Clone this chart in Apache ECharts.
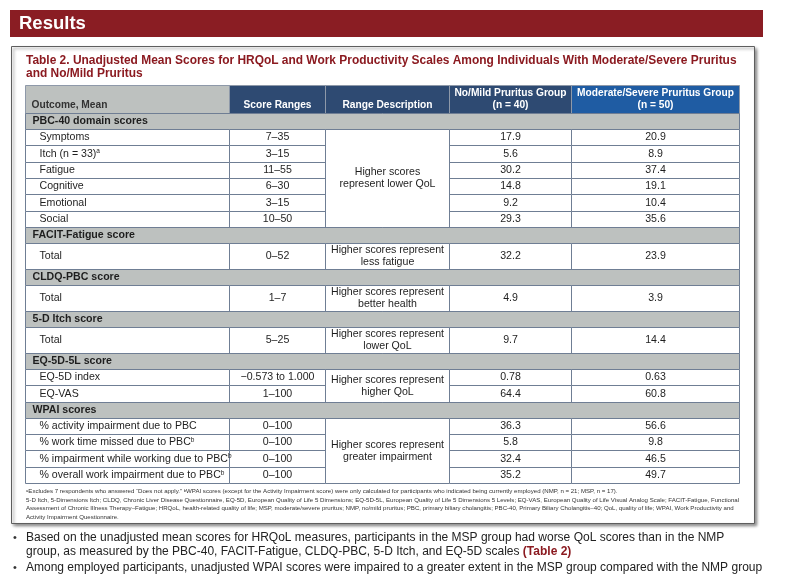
<!DOCTYPE html>
<html><head><meta charset="utf-8">
<script src="https://cdn.jsdelivr.net/npm/echarts@6/dist/echarts.min.js"></script>
<style>html,body{margin:0;padding:0;background:#fff}#c{width:788px;height:586px}</style>
</head><body><div id="c"></div>
<script>
// ---------- data ----------
const pageTitle = 'Results';
const tableTitle = [
  'Table 2. Unadjusted Mean Scores for HRQoL and Work Productivity Scales Among Individuals With Moderate/Severe Pruritus',
  'and No/Mild Pruritus'
];
const columnHeaders = ['Outcome, Mean', 'Score Ranges', 'Range Description', 'No/Mild Pruritus Group\n(n = 40)', 'Moderate/Severe Pruritus Group\n(n = 50)'];
const sections = ['PBC-40 domain scores', 'FACIT-Fatigue score', 'CLDQ-PBC score', '5-D Itch score', 'EQ-5D-5L score', 'WPAI scores'];
const descriptions = [
  'Higher scores\nrepresent lower QoL',
  'Higher scores represent\nless fatigue',
  'Higher scores represent\nbetter health',
  'Higher scores represent\nlower QoL',
  'Higher scores represent\nhigher QoL',
  'Higher scores represent\ngreater impairment'
];
const rowSection = [0, 0, 0, 0, 0, 0, 1, 2, 3, 4, 4, 5, 5, 5, 5];
const outcomes = ['Symptoms', 'Itch (n = 33){sup|a}', 'Fatigue', 'Cognitive', 'Emotional', 'Social', 'Total', 'Total', 'Total',
  'EQ-5D index', 'EQ-VAS', '% activity impairment due to PBC', '% work time missed due to PBC{sup|b}',
  '% impairment while working due to PBC{sup|b}', '% overall work impairment due to PBC{sup|b}'];
const scoreRanges = ['7–35', '3–15', '11–55', '6–30', '3–15', '10–50', '0–52', '1–7', '5–25', '−0.573 to 1.000', '1–100', '0–100', '0–100', '0–100', '0–100'];
const nmpMeans = [17.9, 5.6, 30.2, 14.8, 9.2, 29.3, 32.2, 4.9, 9.7, 0.78, 64.4, 36.3, 5.8, 32.4, 35.2];
const mspMeans = [20.9, 8.9, 37.4, 19.1, 10.4, 35.6, 23.9, 3.9, 14.4, 0.63, 60.8, 56.6, 9.8, 46.5, 49.7];
const footnotes = [
  '{sup|a}Excludes 7 respondents who answered “Does not apply.” {sup|b}WPAI scores (except for the Activity Impairment score) were only calculated for participants who indicated being currently employed (NMP, n = 21; MSP, n = 17).',
  '5-D Itch, 5-Dimensions Itch; CLDQ, Chronic Liver Disease Questionnaire, EQ-5D, European Quality of Life 5 Dimensions; EQ-5D-5L, European Quality of Life 5 Dimensions 5 Levels; EQ-VAS, European Quality of Life Visual Analog Scale; FACIT-Fatigue, Functional',
  'Assessment of Chronic Illness Therapy–Fatigue; HRQoL, health-related quality of life; MSP, moderate/severe pruritus; NMP, no/mild pruritus; PBC, primary biliary cholangitis; PBC-40, Primary Biliary Cholangitis–40; QoL, quality of life; WPAI, Work Productivity and',
  'Activity Impairment Questionnaire.'
];
const bullets = [
  ['Based on the unadjusted mean scores for HRQoL measures, participants in the MSP group had worse QoL scores than in the NMP',
   'group, as measured by the PBC-40, FACIT-Fatigue, CLDQ-PBC, 5-D Itch, and EQ-5D scales {red|(Table 2)}'],
  ['Among employed participants, unadjusted WPAI scores were impaired to a greater extent in the MSP group compared with the NMP group']
];

// ---------- layout ----------
const FONT = '"Liberation Sans", Arial, sans-serif';
const colEdges = [0, 204, 300, 424, 546, 714];
const H_HEAD = 28, H_SEC = 16, H_ROW = 16.3, H_TALL = 26;
const C = {
  bar: '#8A1D23', title: '#8B1A20', grayHead: '#BDC1BF', navy: '#2E4A72', blue: '#1F5CA3',
  sec: '#BDC1BF', grid: '#6F7E94', text: '#1e1e1e'
};

const cells = [];
let yy = 0;
columnHeaders.forEach((t, i) => cells.push({ c0: i, c1: i + 1, y0: 0, y1: H_HEAD, kind: 'head', col: i, text: t }));
yy = H_HEAD;
sections.forEach((s, si) => {
  cells.push({ c0: 0, c1: 5, y0: yy, y1: yy + H_SEC, kind: 'sec', text: s });
  yy += H_SEC;
  const idx = rowSection.map((v, i) => v === si ? i : -1).filter(i => i >= 0);
  const h = idx.length === 1 ? H_TALL : H_ROW;
  const ys = yy;
  idx.forEach(r => {
    cells.push({ c0: 0, c1: 1, y0: yy, y1: yy + h, kind: 'out', text: outcomes[r] });
    cells.push({ c0: 1, c1: 2, y0: yy, y1: yy + h, kind: 'num', text: scoreRanges[r] });
    cells.push({ c0: 3, c1: 4, y0: yy, y1: yy + h, kind: 'num', text: String(nmpMeans[r]) });
    cells.push({ c0: 4, c1: 5, y0: yy, y1: yy + h, kind: 'num', text: String(mspMeans[r]) });
    yy += h;
  });
  cells.push({ c0: 2, c1: 3, y0: ys, y1: yy, kind: 'desc', text: descriptions[si] });
});
const totalH = yy;

const supRich = {
  sup: { fontSize: 6.5, fontFamily: FONT, verticalAlign: 'top', fill: C.text, padding: [0, 0, 4, 0] }
};

function renderItem(params, api) {
  const p0 = api.coord([api.value(0), api.value(1)]);
  const p1 = api.coord([api.value(2), api.value(3)]);
  const c = cells[api.value(4)];
  const x0 = Math.round(p0[0]) + 0.5, y0 = Math.round(p0[1]) + 0.5;
  const x1 = Math.round(p1[0]) + 0.5, y1 = Math.round(p1[1]) + 0.5;
  let fill = '#fff', stroke = C.grid;
  let tx = (x0 + x1) / 2, ty = (y0 + y1) / 2, align = 'center', weight = 'normal', color = C.text;
  let fs = 10.6;
  if (c.kind === 'head') {
    fill = c.col === 0 ? C.grayHead : (c.col === 4 ? C.blue : C.navy);
    stroke = '#8E99A9';
    weight = 'bold';
    fs = 10.2;
    color = c.col === 0 ? '#333' : '#fff';
    if (c.col === 0) { tx = x0 + 6; align = 'left'; ty = y1 - 8; }
    else if (c.col < 3) { ty = y1 - 8; }
    else { ty = (y0 + y1) / 2; }
  } else if (c.kind === 'sec') {
    fill = C.sec; tx = x0 + 7; align = 'left'; weight = 'bold';
  } else if (c.kind === 'out') {
    tx = x0 + 14; align = 'left';
  }
  return {
    type: 'group',
    children: [
      { type: 'rect', shape: { x: x0, y: y0, width: x1 - x0, height: y1 - y0 },
        style: { fill: fill, stroke: stroke, lineWidth: 1 } },
      { type: 'text', x: tx, y: ty, z2: 10,
        style: { text: c.text, fill: color, align: align, verticalAlign: 'middle',
          fontSize: fs, fontWeight: weight, fontFamily: FONT, lineHeight: 12, rich: supRich } }
    ]
  };
}

const graphics = [];
graphics.push({ type: 'rect', z: 0, shape: { x: 10, y: 10, width: 753, height: 27 }, style: { fill: C.bar } });
graphics.push({ type: 'text', z: 1, x: 19, y: 24, style: { text: pageTitle, fill: '#fff', fontSize: 18.5, fontWeight: 'bold', fontFamily: FONT, verticalAlign: 'middle' } });
graphics.push({ type: 'rect', z: 0, shape: { x: 11.5, y: 46.5, width: 743, height: 477 },
  style: { fill: '#fff', stroke: '#5e5e5e', lineWidth: 1, shadowBlur: 3, shadowOffsetX: 2, shadowOffsetY: 2, shadowColor: 'rgba(0,0,0,0.45)' } });
tableTitle.forEach((t, i) => graphics.push({ type: 'text', z: 1, x: 26, y: 61 + i * 12.5,
  style: { text: t, fill: C.title, fontSize: 11.95, fontWeight: 'bold', fontFamily: FONT, verticalAlign: 'middle' } }));
footnotes.forEach((t, i) => graphics.push({ type: 'text', z: 1, x: 26, y: 491.5 + i * 8.5,
  style: { text: t, fill: '#333', fontSize: 6.1, fontFamily: FONT, verticalAlign: 'middle',
    rich: { sup: { fontSize: 4.2, fontFamily: FONT, verticalAlign: 'top', fill: '#333' } } } }));
const bulletY = [[538, 552], [568]];
bullets.forEach((lines, bi) => {
  graphics.push({ type: 'text', z: 1, x: 13, y: bulletY[bi][0], style: { text: '•', fill: '#333', fontSize: 11, fontFamily: FONT, verticalAlign: 'middle' } });
  lines.forEach((t, j) => {
    graphics.push({ type: 'text', z: 1, x: 26, y: bulletY[bi][j],
      style: { text: t, fill: '#222', fontSize: 12.0, fontFamily: FONT, verticalAlign: 'middle',
        rich: { red: { fill: C.title, fontWeight: 'bold', fontSize: 12.0, fontFamily: FONT } } } });
  });
});

const chart = echarts.init(document.getElementById('c'), null, { renderer: 'canvas' });
chart.setOption({
  animation: false,
  backgroundColor: '#fff',
  graphic: { elements: graphics },
  grid: { left: 25, top: 85, width: 714, height: 398, containLabel: false },
  xAxis: { type: 'value', min: 0, max: colEdges[colEdges.length - 1], show: false },
  yAxis: { type: 'value', min: 0, max: totalH, inverse: true, show: false },
  series: [{
    type: 'custom', z: 5, silent: true,
    renderItem: renderItem,
    data: cells.map((c, i) => [colEdges[c.c0], c.y0, colEdges[c.c1], c.y1, i])
  }]
});
</script></body></html>
